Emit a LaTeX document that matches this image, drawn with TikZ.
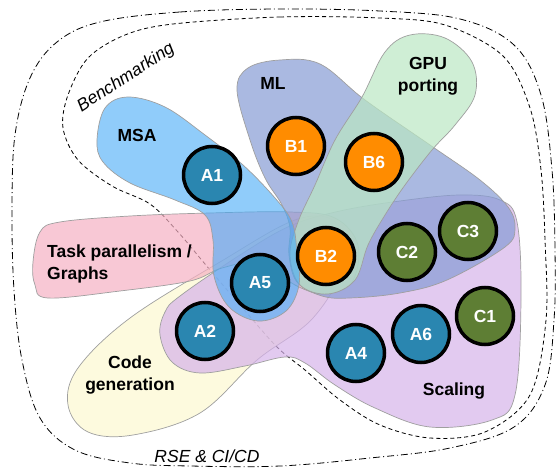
\documentclass[tikz,border=0pt]{standalone}
\usepackage{fontspec}
\setmainfont{Liberation Sans}
\usepackage{xcolor}
\usepackage{tikz}
\usetikzlibrary{positioning}
\definecolor{msa}{RGB}{70,170,247}
\definecolor{ml}{RGB}{134,155,212}
\definecolor{gpu}{RGB}{186,231,195}
\definecolor{task}{RGB}{245,176,195}
\definecolor{codegen}{RGB}{252,248,208}
\definecolor{scaling}{RGB}{214,179,234}
\definecolor{projA}{HTML}{2A86B0}
\definecolor{projB}{HTML}{FF8C00}
\definecolor{projC}{HTML}{5E7E34}

\begin{document}
\begin{tikzpicture}[
    x=1pt, y=-1pt,
    blob/.style={draw=gray!75, line width=0.7pt, fill opacity=0.7},
    proj/.style={circle, draw=black, line width=3.5pt, minimum size=57pt,
                 inner sep=0pt, text=white, font=\bfseries\fontsize{17.5}{20}\selectfont},
    lbl/.style={font=\bfseries\fontsize{17.5}{22}\selectfont, inner sep=0pt},
    ital/.style={font=\itshape\fontsize{17.5}{20}\selectfont, inner sep=0pt},
    rseline/.style={line width=0.8pt, dash pattern=on 7pt off 3pt on 1pt off 3pt},
    benchline/.style={line width=0.8pt, dash pattern=on 4pt off 3pt},
]
    \useasboundingbox (0,0) rectangle (559,470);

    % outer groups
    \draw[rseline] plot[smooth cycle, tension=0.6] coordinates {
        (100,22) (180,12) (280,9) (380,11) (460,19) (514,45) (541,95)
        (552,170) (555,250) (554,320) (545,385) (514,427) (450,448) (370,458)
        (280,466) (190,466) (130,463) (75,450) (40,418) (22,360) (14,290)
        (12,210) (15,135) (30,78) (57,42)};
    \draw[benchline] plot[smooth cycle, tension=0.55] coordinates {
        (173,24) (280,17) (380,18) (445,25) (503,56) (530,108) (541,170)
        (545,240) (546,320) (530,395) (485,432) (430,438) (380,425) (340,400)
        (305,370) (277,347) (240,305) (205,264) (178,232) (150,204) (112,186)
        (78,160) (63,128) (68,95) (88,58) (125,35)};

    % topic blobs
    \draw[blob, fill=codegen] plot[smooth cycle, tension=0.6] coordinates {
        (68,405) (78,368) (130,318) (220,262) (295,220) (335,222) (345,262)
        (313,318) (257,360) (200,413) (133,435) (88,432)};
    \draw[blob, fill=scaling] plot[smooth cycle, tension=0.6] coordinates {
        (160,335) (165,312) (180,296) (240,255) (290,226) (340,211) (400,201)
        (460,195) (500,200) (517,222) (521,300) (515,395) (492,420) (430,427)
        (375,408) (335,385) (305,363) (285,357) (245,366) (200,373) (172,362)};
    \draw[blob, fill=task] plot[smooth cycle, tension=0.6] coordinates {
        (33,262) (40,232) (60,222) (130,216) (210,213) (290,212) (335,218)
        (358,245) (352,282) (325,294) (295,285) (262,262) (222,268) (190,281)
        (120,291) (48,298) (35,285)};
    \draw[blob, fill=ml] plot[smooth cycle, tension=0.6] coordinates {
        (237,90) (248,68) (280,60) (320,64) (365,100) (430,145) (480,180)
        (508,207) (515,228) (505,247) (447,280) (400,293) (350,298) (322,296)
        (297,282) (289,255) (290,228) (282,205) (265,178) (250,140)};
    \draw[blob, fill=gpu] plot[smooth cycle, tension=0.6] coordinates {
        (385,52) (410,35) (445,38) (472,62) (475,95) (455,125) (432,150)
        (405,185) (385,215) (368,245) (355,280) (328,294) (300,285) (290,255)
        (298,222) (315,185) (335,140) (362,97)};
    \draw[blob, fill=msa, fill opacity=0.6] plot[smooth cycle, tension=0.6] coordinates {
        (97,140) (105,108) (128,97) (165,107) (205,135) (243,165) (275,198)
        (292,222) (297,252) (299,285) (286,311) (258,321) (229,307) (214,276)
        (213,240) (205,215) (175,200) (130,183) (103,162)};

    % labels
    \node[lbl] (msalbl) at (137,135) {MSA};
    \node[lbl] (mllbl) at (273,83) {ML};
    \node[lbl, align=center] (gpulbl) at (428,76) {GPU\\porting};
    \node[lbl, align=left, anchor=west] (tasklbl) at (47,264) {Task parallelism /\\Graphs};
    \node[lbl, align=center] (codelbl) at (130,375) {Code\\generation};
    \node[lbl] (scallbl) at (454,391) {Scaling};
    \node[ital, rotate=33] (benchlbl) at (126,78) {Benchmarking};
    \node[ital] (rselbl) at (207,456) {RSE \& CI/CD};

    % projects
    \node[proj, fill=projA] (a1) at (212,175) {A1};
    \node[proj, fill=projB] (b1) at (296,146) {B1};
    \node[proj, fill=projB] (b6) at (374,162) {B6};
    \node[proj, fill=projB] (b2) at (326,256) {B2};
    \node[proj, fill=projC] (c2) at (407,252) {C2};
    \node[proj, fill=projC] (c3) at (468,231) {C3};
    \node[proj, fill=projA] (a5) at (260,283) {A5};
    \node[proj, fill=projA] (a2) at (205,331) {A2};
    \node[proj, fill=projA] (a4) at (356,353) {A4};
    \node[proj, fill=projA] (a6) at (421,334) {A6};
    \node[proj, fill=projC] (c1) at (485,316) {C1};
\end{tikzpicture}
\end{document}
